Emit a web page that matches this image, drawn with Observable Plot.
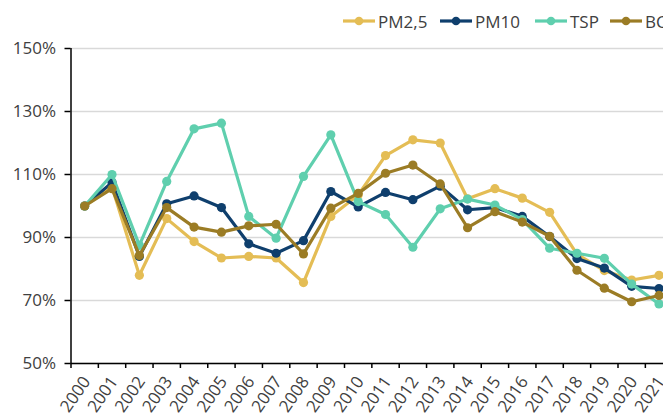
<!DOCTYPE html>
<html>
<head>
<meta charset="utf-8">
<script src="https://cdn.jsdelivr.net/npm/d3@7"></script>
<script src="https://cdn.jsdelivr.net/npm/@observablehq/plot@0.6"></script>
<style>
  html, body { margin: 0; padding: 0; background: #fff; }
  #wrap { width: 663px; height: 414px; overflow: hidden; position: relative; font-family: "Open Sans", sans-serif; }
  #legend { position: absolute; left: 0; top: 0; height: 35px; width: 663px; white-space: nowrap; }
  .item { position: absolute; top: 7px; height: 28px; display: flex; align-items: center; font-size: 17px; color: #404040; }
  .item svg { margin-right: 3px; }
  #chart { position: absolute; left: 0; top: 35px; }
</style>
</head>
<body>
<div id="wrap">
  <div id="legend"></div>
  <div id="chart"></div>
</div>
<script>
const years = [2000, 2001, 2002, 2003, 2004, 2005, 2006, 2007, 2008, 2009, 2010,
               2011, 2012, 2013, 2014, 2015, 2016, 2017, 2018, 2019, 2020, 2021];
const seriesNames = ["PM2,5", "PM10", "TSP", "BC"];
const seriesColors = ["#E4BD55", "#0F3F6D", "#5FCFAE", "#9B7C25"];
const pm25 = [100, 106, 78, 96, 88.7, 83.5, 84, 83.5, 75.7, 96.7, 103.5, 116, 121, 120, 102.3, 105.5, 102.5, 98, 84.7, 79.5, 76.5, 78];
const pm10 = [100, 107.5, 84, 100.7, 103.2, 99.5, 88, 85, 89, 104.6, 99.7, 104.3, 102, 106.3, 98.8, 99.5, 96.7, 90.3, 83.3, 80.3, 74.5, 73.8];
const tsp  = [100, 110, 87.5, 107.8, 124.5, 126.3, 96.7, 89.8, 109.4, 122.6, 101.4, 97.3, 86.9, 99.1, 102.2, 100.3, 95.7, 86.6, 85, 83.4, 75.2, 68.9];
const bc   = [100, 105.5, 84.3, 99.5, 93.3, 91.7, 93.7, 94.2, 84.8, 99.3, 104, 110.4, 113, 107, 93.1, 98.2, 94.9, 90.4, 79.6, 73.9, 69.6, 71.6];
const yTicks = [50, 70, 90, 110, 130, 150];

const seriesValues = [pm25, pm10, tsp, bc];
const data = [];
seriesNames.forEach((name, si) => {
  years.forEach((yr, i) => data.push({series: name, year: yr, value: seriesValues[si][i]}));
});
const boundaries = years.map(y => y - 0.5).concat([years[years.length - 1] + 0.5]);

const marks = [
  Plot.gridY(yTicks, {stroke: "#d9d9d9", strokeOpacity: 1, strokeWidth: 1.5}),
  Plot.axisY(yTicks, {label: null, tickFormat: d => d + "%", tickSize: 6, tickPadding: 9, stroke: "#000", strokeWidth: 1.5, fill: "#404040", fontSize: 17, fontFamily: "Open Sans"}),
  Plot.axisX(boundaries, {label: null, tickSize: 5, tickFormat: () => "", stroke: "#000", strokeWidth: 1.5}),
  Plot.axisX(years, {label: null, tickSize: 0, tickRotate: -55, tickPadding: 15, dx: 2, tickFormat: d => String(d), fill: "#404040", fontSize: 17, fontFamily: "Open Sans"}),
  Plot.ruleX([boundaries[0]], {stroke: "#000", strokeWidth: 1.5}),
  Plot.ruleY([yTicks[0]], {stroke: "#000", strokeWidth: 1.5})
];
seriesNames.forEach((name, si) => {
  const d = data.filter(r => r.series === name);
  marks.push(Plot.line(d, {x: "year", y: "value", stroke: seriesColors[si], strokeWidth: 3.2}));
  marks.push(Plot.dot(d, {x: "year", y: "value", fill: seriesColors[si], r: 4.6}));
});

const chart = Plot.plot({
  width: 663,
  height: 379,
  marginTop: 13,
  marginBottom: 51,
  marginLeft: 70.5,
  marginRight: 0,
  style: {fontFamily: "Open Sans", fontSize: "17px", color: "#404040", overflow: "hidden"},
  x: {type: "linear", domain: [boundaries[0], boundaries[boundaries.length - 1]], range: [70.5, 672.2], axis: null},
  y: {domain: [yTicks[0], yTicks[yTicks.length - 1]], range: [328, 13], axis: null},
  marks
});
document.getElementById("chart").appendChild(chart);

// legend
const legendX = [343, 440, 535, 610];
const legend = document.getElementById("legend");
seriesNames.forEach((name, si) => {
  const item = document.createElement("div");
  item.className = "item";
  item.style.left = legendX[si] + "px";
  const ns = "http://www.w3.org/2000/svg";
  const s = document.createElementNS(ns, "svg");
  s.setAttribute("width", 32); s.setAttribute("height", 12);
  const l = document.createElementNS(ns, "line");
  l.setAttribute("x1", 0); l.setAttribute("x2", 32); l.setAttribute("y1", 6); l.setAttribute("y2", 6);
  l.setAttribute("stroke", seriesColors[si]); l.setAttribute("stroke-width", 3.2);
  const c = document.createElementNS(ns, "circle");
  c.setAttribute("cx", 16); c.setAttribute("cy", 6); c.setAttribute("r", 4.3);
  c.setAttribute("fill", seriesColors[si]);
  s.appendChild(l); s.appendChild(c);
  item.appendChild(s);
  const t = document.createElement("span");
  t.textContent = name;
  item.appendChild(t);
  legend.appendChild(item);
});
</script>
</body>
</html>
